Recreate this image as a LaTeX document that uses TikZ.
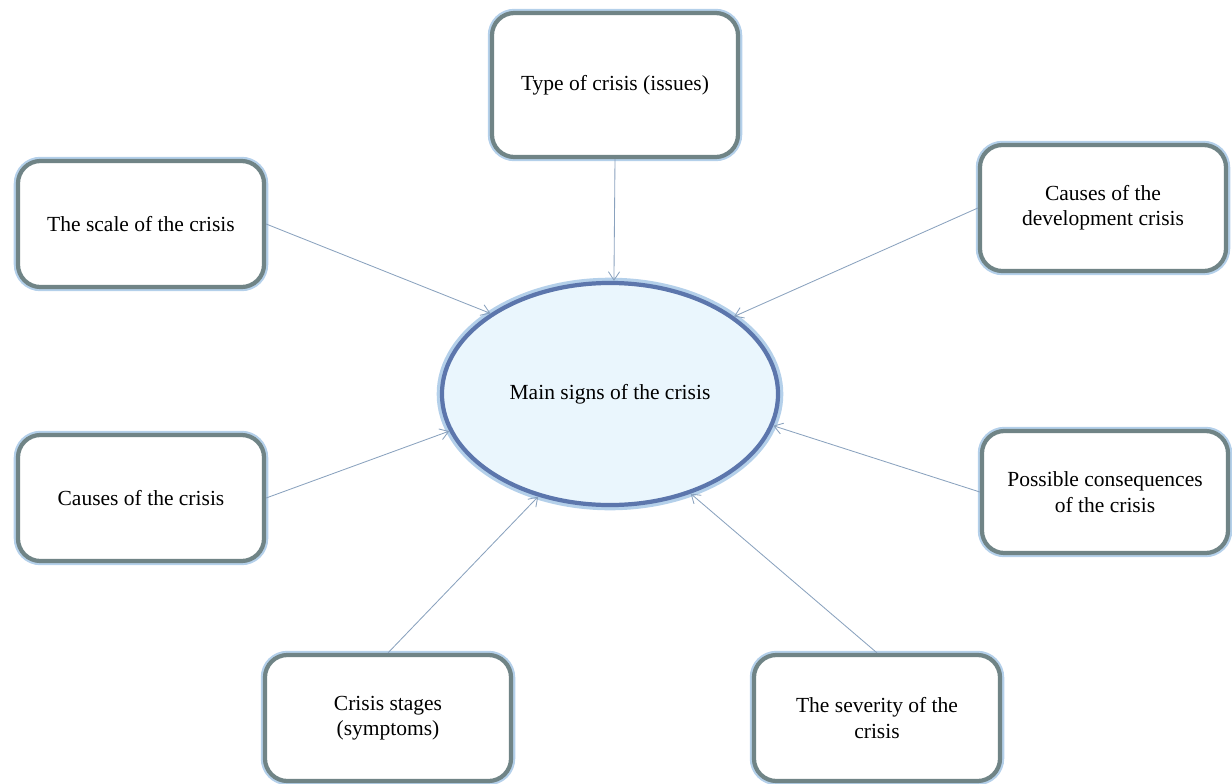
\documentclass[tikz,border=0pt]{standalone}
\usepackage{fontspec}
\setmainfont{Liberation Serif}
\usetikzlibrary{shapes.geometric,arrows.meta}

\definecolor{boxedge}{RGB}{112,132,134}
\definecolor{boxglow}{RGB}{180,208,234}
\definecolor{mainfill}{RGB}{234,246,253}
\definecolor{mainedge}{RGB}{92,118,172}
\definecolor{linkcol}{RGB}{138,162,190}

\tikzset{
  signbox/.style={draw=boxedge, line width=3pt, fill=white, rounded corners=16pt,
    minimum width=6.15cm, minimum height=3.15cm, align=center,
    font=\fontsize{15.3}{18}\selectfont,
    preaction={draw=boxglow, line width=6pt}},
  mainsign/.style={ellipse, draw=mainedge, line width=3pt, fill=mainfill,
    minimum width=8.4cm, minimum height=5.55cm,
    font=\fontsize{15.3}{18}\selectfont,
    preaction={draw=boxglow, line width=7.5pt}},
  link/.style={draw=linkcol, line width=0.6pt, -{Straight Barb[length=6pt,width=8pt]}}
}

\begin{document}
\begin{tikzpicture}[x=0.025cm, y=-0.025cm]
    \useasboundingbox (0,0) rectangle (1232,784);

    % centre
    \node[mainsign] (main) at (610,394) {Main signs of the crisis};

    % signs around it
    \node[signbox, minimum height=3.6cm] (type) at (615,85) {Type of crisis (issues)};
    \node[signbox] (scale) at (141,224) {The scale of the crisis};
    \node[signbox] (devcause) at (1103,208) {Causes of the\\development crisis};
    \node[signbox] (causes) at (141,498) {Causes of the crisis};
    \node[signbox, minimum height=3.05cm] (conseq) at (1105,492) {Possible consequences\\of the crisis};
    \node[signbox] (stages) at (388,718) {Crisis stages\\(symptoms)};
    \node[signbox] (severity) at (877,718) {The severity of the\\crisis};

    % links
    \draw[link] (type.south) -- (main.88);
    \draw[link] (scale.east) -- (main.146);
    \draw[link] (devcause.west) -- (main.32);
    \draw[link] (causes.east) -- (main.193);
    \draw[link] (conseq.west) -- (main.349);
    \draw[link] (stages.north) -- (main.235);
    \draw[link] (severity.north) -- (main.309);

\end{tikzpicture}
\end{document}
